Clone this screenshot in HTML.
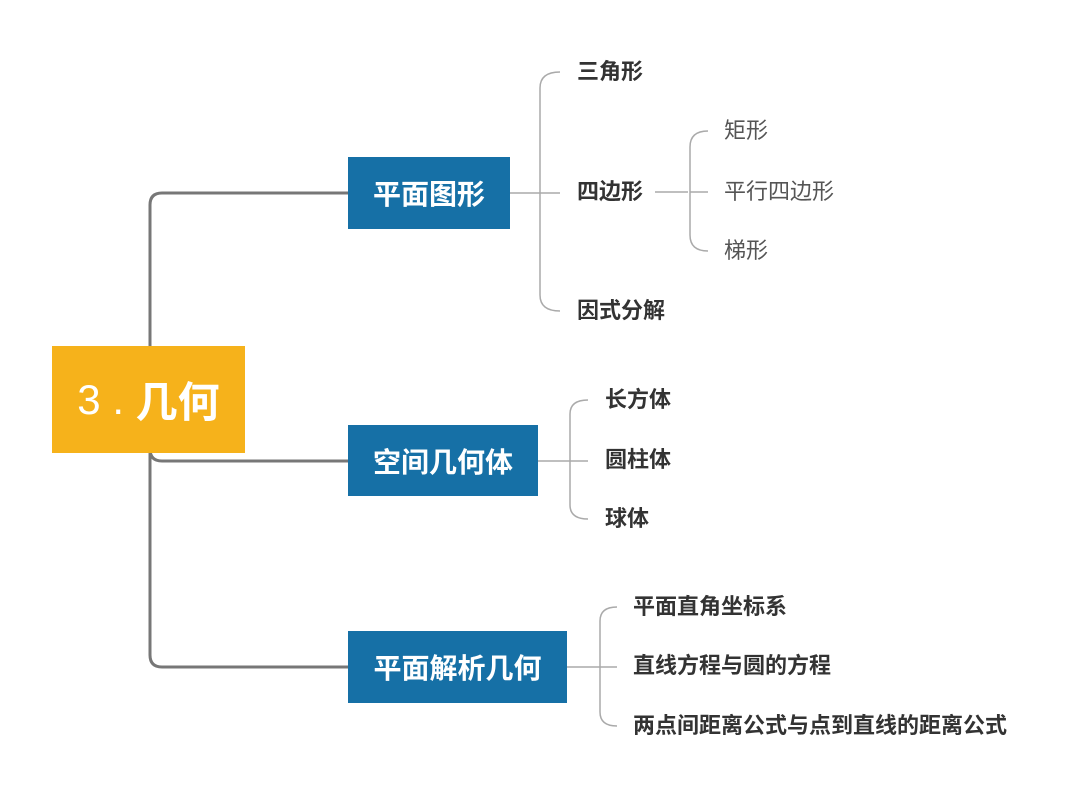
<!DOCTYPE html>
<html><head><meta charset="utf-8"><style>
body{margin:0;background:#fff;}
#c{position:relative;width:1080px;height:801px;overflow:hidden;font-family:"Liberation Sans","Noto Sans CJK SC",sans-serif;}
.t{position:absolute;font-size:22px;font-weight:bold;color:#333;line-height:26px;transform:translateY(-13px);white-space:nowrap;}
.n{font-weight:normal;color:#555;}
.b{position:absolute;background:#1670a6;color:#fff;font-size:28px;font-weight:bold;display:flex;align-items:center;justify-content:center;}
</style></head><body><div id="c">
<svg width="1080" height="801" style="position:absolute;left:0;top:0">
<g fill="none" stroke="#777" stroke-width="3">
<path d="M150 346 V205 Q150 193 162 193 H350"/>
<path d="M150 453 V655 Q150 667 162 667 H350"/>
<path d="M150 449 Q150 461 162 461 H350"/>
</g>
<g fill="none" stroke="#aaa" stroke-width="1.5">
<path d="M510 193 H540 M540 193 H560"/>
<path d="M560 72 Q540 72 540 88 V295 Q540 311 560 311"/>
<path d="M655 192 H688 M690 192 H708"/>
<path d="M708 131 Q690 131 690 147 V235 Q690 251 708 251"/>
<path d="M538 461 H588"/>
<path d="M588 400 Q570 400 570 414 V505 Q570 519 588 519"/>
<path d="M567 667 H617"/>
<path d="M617 607 Q600 607 600 621 V712 Q600 726 617 726"/>
</g>
</svg>
<div class="b" style="left:52px;top:346px;width:193px;height:107px;background:#f6b21b;font-size:42px;font-weight:normal;">3 .&nbsp;<b>几何</b></div>
<div class="b" style="left:348px;top:157px;width:162px;height:72px;">平面图形</div>
<div class="b" style="left:348px;top:425px;width:190px;height:71px;">空间几何体</div>
<div class="b" style="left:348px;top:631px;width:219px;height:72px;">平面解析几何</div>
<div class="t" style="left:577px;top:72px">三角形</div>
<div class="t" style="left:577px;top:192px">四边形</div>
<div class="t" style="left:577px;top:311px">因式分解</div>
<div class="t n" style="left:724px;top:131px">矩形</div>
<div class="t n" style="left:724px;top:192px">平行四边形</div>
<div class="t n" style="left:724px;top:251px">梯形</div>
<div class="t" style="left:605px;top:400px">长方体</div>
<div class="t" style="left:605px;top:460px">圆柱体</div>
<div class="t" style="left:605px;top:519px">球体</div>
<div class="t" style="left:633px;top:607px">平面直角坐标系</div>
<div class="t" style="left:633px;top:666px">直线方程与圆的方程</div>
<div class="t" style="left:633px;top:726px">两点间距离公式与点到直线的距离公式</div>
</div></body></html>
